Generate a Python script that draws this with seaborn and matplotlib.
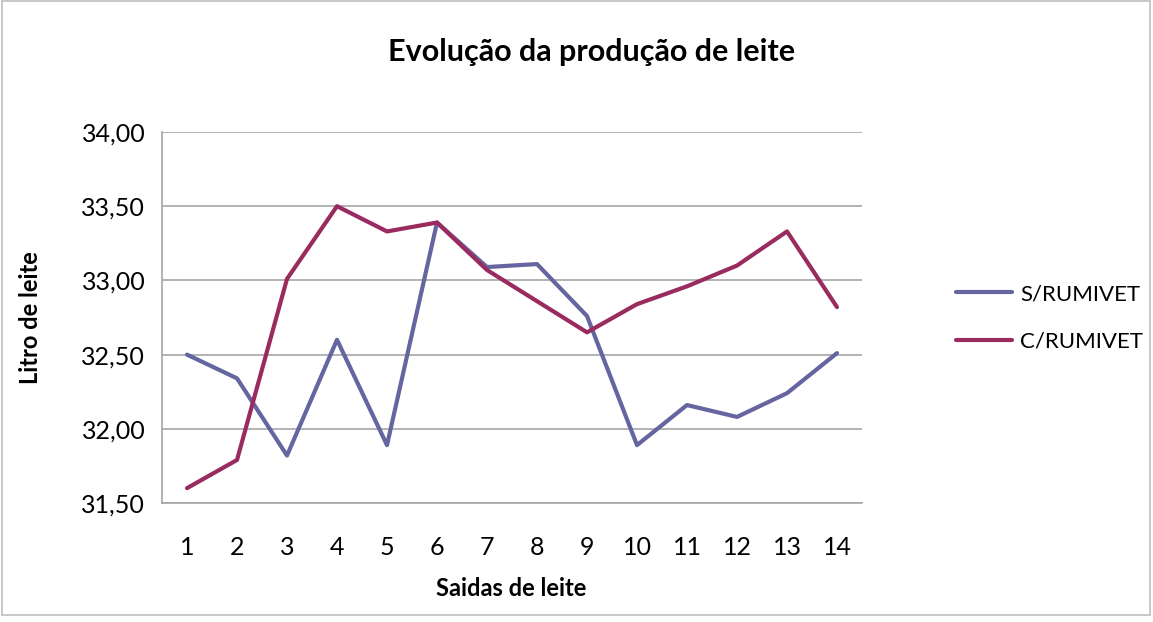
import numpy as np
import pandas as pd
import matplotlib
matplotlib.use("Agg")
import matplotlib.pyplot as plt
import seaborn as sns
from matplotlib.ticker import FuncFormatter, FixedLocator
from matplotlib.patches import Rectangle

# ─── Données ────────────────────────────────────────────────────────────────
saidas = list(range(1, 15))
s_rumivet = [32.50, 32.34, 31.82, 32.60, 31.89, 33.39, 33.09,
             33.11, 32.76, 31.89, 32.16, 32.08, 32.24, 32.51]
c_rumivet = [31.60, 31.79, 33.01, 33.50, 33.33, 33.39, 33.07,
             32.86, 32.65, 32.84, 32.96, 33.10, 33.33, 32.82]
series_names = ["S/RUMIVET", "C/RUMIVET"]
y_ticks = [31.5, 32.0, 32.5, 33.0, 33.5, 34.0]

df = pd.DataFrame({
    "Saida": saidas * 2,
    "Litro": s_rumivet + c_rumivet,
    "Serie": [series_names[0]] * 14 + [series_names[1]] * 14,
})

# ─── Style ──────────────────────────────────────────────────────────────────
sns.set_style("white")
plt.rcParams["font.family"] = ["Lato", "DejaVu Sans"]
plt.rcParams["text.color"] = "black"
palette = {"S/RUMIVET": "#65659F", "C/RUMIVET": "#9A2B5E"}
grid_col = "#A6A6A6"

fig = plt.figure(figsize=(11.53, 6.22), dpi=100)
ax = fig.add_axes([162 / 1153, 1 - 503 / 622, 700 / 1153, (503 - 132) / 622])

sns.lineplot(data=df, x="Saida", y="Litro", hue="Serie", palette=palette,
             lw=3, ax=ax, legend=True)

ax.set_xlim(0.5, 14.5)
ax.set_ylim(31.5, 34.0)
ax.set_yticks(y_ticks)
ax.yaxis.set_major_formatter(FuncFormatter(lambda v, _: f"{v:.2f}".replace(".", ",")))
ax.set_xticks(saidas)
ax.xaxis.set_minor_locator(FixedLocator(np.arange(0.5, 15, 1.0)))
ax.tick_params(axis="x", which="major", length=0, labelsize=18, pad=24, colors="black")
ax.tick_params(axis="x", which="minor", length=6, color=grid_col, direction="out")
ax.tick_params(axis="y", which="major", length=6, color=grid_col, labelsize=18,
               pad=6, labelcolor="black", direction="out")

ax.grid(True, axis="y", color=grid_col, lw=1.2)
ax.grid(False, axis="x")
for side in ["top", "right"]:
    ax.spines[side].set_visible(False)
for side in ["left", "bottom"]:
    ax.spines[side].set_color(grid_col)
    ax.spines[side].set_linewidth(1.2)

ax.set_xlabel("")
ax.set_ylabel("")

# Légende à droite
handles, labels = ax.get_legend_handles_labels()
ax.get_legend().remove()
fig.legend(handles, labels, loc="center left",
           bbox_to_anchor=(956 / 1153, 1 - 318 / 622),
           frameon=False, fontsize=16, handlelength=2.5,
           labelspacing=1.25, handletextpad=0.4,
           borderpad=0, borderaxespad=0)

# Titres
fig.text(592 / 1153, 1 - 52 / 622, "Evolução da produção de leite",
         ha="center", va="center", fontsize=22, fontweight="bold")
fig.text(511 / 1153, 1 - 589 / 622, "Saidas de leite",
         ha="center", va="center", fontsize=17, fontweight="bold")
fig.text(30 / 1153, 1 - 318 / 622, "Litro de leite", rotation=90,
         ha="center", va="center", fontsize=17, fontweight="bold")

# Cadre extérieur
fig.patches.append(Rectangle((0.002, 0.012), 0.995, 0.986, transform=fig.transFigure,
                             fill=False, edgecolor="#BFBFBF", lw=1.2))

fig.savefig("out.png", dpi=100, facecolor="white")
